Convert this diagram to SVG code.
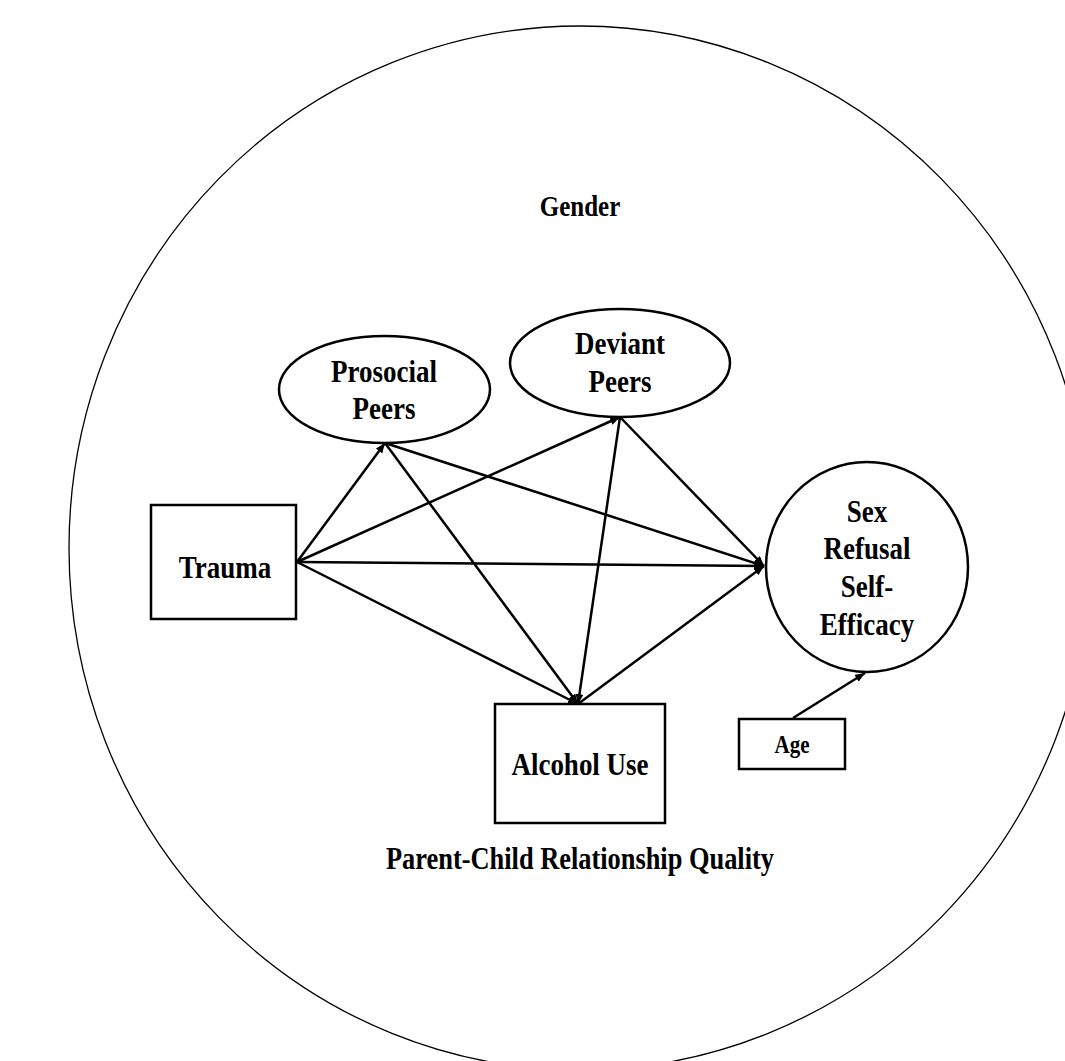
<svg xmlns="http://www.w3.org/2000/svg" width="1065" height="1061" viewBox="0 0 1065 1061">
<style>
.node{fill:#fff;stroke:#000;stroke-width:2.5}
.t{font-family:"Liberation Serif","Times New Roman",serif;font-weight:bold;font-size:27px;text-anchor:middle;fill:#000}
.s{font-size:21px}
.c{stroke:#000;stroke-width:2.5;fill:none;marker-end:url(#ah)}
</style>
<defs>
<marker id="ah" markerUnits="userSpaceOnUse" markerWidth="12" markerHeight="10" refX="10" refY="4" orient="auto">
<path d="M0,0 L10,4 L0,8 Z" fill="#000"/>
</marker>
</defs>
<rect width="1065" height="1061" fill="#fff"/>
<g id="context">
<ellipse cx="580" cy="548" rx="511" ry="522" fill="none" stroke="#000" stroke-width="1.3"/>
<text class="t" transform="translate(580,216) scale(1,1.19)" style="font-size:25px">Gender</text>
<text class="t" transform="translate(580,869) scale(1,1.19)" style="font-size:26.4px">Parent-Child Relationship Quality</text>
</g>
<g id="connectors">
<line class="c" x1="297" y1="562" x2="385" y2="443"/>
<line class="c" x1="297" y1="562" x2="620" y2="417"/>
<line class="c" x1="297" y1="562" x2="764" y2="566"/>
<line class="c" x1="297" y1="562" x2="578" y2="704"/>
<line class="c" x1="385" y1="443" x2="578" y2="704"/>
<line class="c" x1="385" y1="443" x2="764" y2="566"/>
<line class="c" x1="620" y1="417" x2="578" y2="704"/>
<line class="c" x1="620" y1="417" x2="764" y2="566"/>
<line class="c" x1="578" y1="704" x2="764" y2="566"/>
<line class="c" x1="793" y1="718" x2="865" y2="673"/>
</g>
<g id="trauma">
<rect class="node" x="151" y="505" width="145" height="114"/>
<text class="t" transform="translate(225,578) scale(1,1.19)">Trauma</text>
</g>
<g id="prosocial">
<ellipse class="node" cx="384.5" cy="389.5" rx="105.5" ry="53.5"/>
<text class="t" transform="translate(384,382) scale(1,1.19)">Prosocial</text>
<text class="t" transform="translate(384,419) scale(1,1.19)">Peers</text>
</g>
<g id="deviant">
<ellipse class="node" cx="620" cy="363" rx="110" ry="54"/>
<text class="t" transform="translate(620,354) scale(1,1.19)">Deviant</text>
<text class="t" transform="translate(620,392) scale(1,1.19)">Peers</text>
</g>
<g id="sexrefusal">
<ellipse class="node" cx="867" cy="567" rx="101" ry="105"/>
<text class="t" transform="translate(867,522) scale(1,1.19)">Sex</text>
<text class="t" transform="translate(867,559) scale(1,1.19)">Refusal</text>
<text class="t" transform="translate(867,597) scale(1,1.19)">Self-</text>
<text class="t" transform="translate(867,635) scale(1,1.19)">Efficacy</text>
</g>
<g id="alcohol">
<rect class="node" x="495" y="704" width="170" height="119"/>
<text class="t" transform="translate(580,775) scale(1,1.19)">Alcohol Use</text>
</g>
<g id="age">
<rect class="node" x="739" y="719" width="106" height="50"/>
<text class="t s" transform="translate(792,753) scale(1,1.15)">Age</text>
</g>
</svg>
